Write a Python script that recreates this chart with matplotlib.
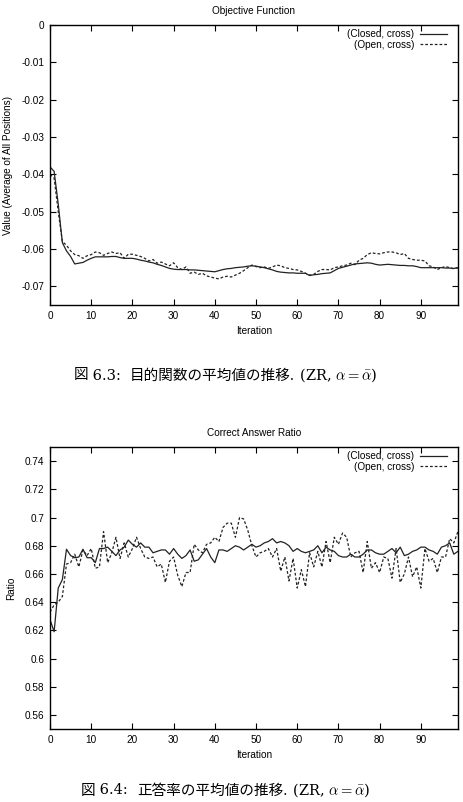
import matplotlib
matplotlib.use("Agg")
import matplotlib.pyplot as plt
from matplotlib.ticker import FuncFormatter, MultipleLocator
from matplotlib.offsetbox import TextArea, HPacker, AnchoredOffsetbox

plt.rcParams['font.family'] = ['Liberation Sans', 'DejaVu Sans']
plt.rcParams['axes.unicode_minus'] = False
plt.rcParams['mathtext.fontset'] = 'cm'

iterations = list(range(100))

# objective function, averaged over all positions
obj_closed = [
    -0.0380, -0.0392, -0.0480, -0.0583, -0.0605, -0.0620, -0.0640, -0.0638, -0.0636, -0.0630,
    -0.0625, -0.0621, -0.0621, -0.0621, -0.0621, -0.0620, -0.0620, -0.0623, -0.0625, -0.0625,
    -0.0625, -0.0627, -0.0630, -0.0632, -0.0635, -0.0637, -0.0641, -0.0644, -0.0648, -0.0652,
    -0.0654, -0.0655, -0.0655, -0.0655, -0.0656, -0.0656, -0.0657, -0.0658, -0.0659, -0.0660,
    -0.0661, -0.0658, -0.0655, -0.0653, -0.0652, -0.0650, -0.0649, -0.0648, -0.0646, -0.0645,
    -0.0646, -0.0648, -0.0650, -0.0653, -0.0656, -0.0660, -0.0662, -0.0663, -0.0664, -0.0664,
    -0.0665, -0.0665, -0.0665, -0.0671, -0.0669, -0.0668, -0.0666, -0.0665, -0.0664, -0.0658,
    -0.0652, -0.0649, -0.0646, -0.0643, -0.0640, -0.0639, -0.0638, -0.0637, -0.0638, -0.0641,
    -0.0643, -0.0642, -0.0641, -0.0642, -0.0643, -0.0644, -0.0644, -0.0645, -0.0645, -0.0647,
    -0.0650, -0.0650, -0.0650, -0.0650, -0.0650, -0.0650, -0.0651, -0.0651, -0.0652, -0.0650,
]
obj_open = [
    -0.0400, -0.0410, -0.0500, -0.0580, -0.0590, -0.0605, -0.0615, -0.0618, -0.0625, -0.0618,
    -0.0615, -0.0608, -0.0610, -0.0617, -0.0612, -0.0608, -0.0612, -0.0610, -0.0625, -0.0614,
    -0.0614, -0.0617, -0.0620, -0.0625, -0.0632, -0.0628, -0.0638, -0.0635, -0.0640, -0.0645,
    -0.0637, -0.0650, -0.0655, -0.0648, -0.0665, -0.0662, -0.0668, -0.0665, -0.0672, -0.0675,
    -0.0678, -0.0680, -0.0675, -0.0673, -0.0675, -0.0670, -0.0665, -0.0658, -0.0650, -0.0643,
    -0.0647, -0.0650, -0.0648, -0.0652, -0.0648, -0.0643, -0.0645, -0.0650, -0.0652, -0.0655,
    -0.0656, -0.0660, -0.0665, -0.0670, -0.0668, -0.0660, -0.0655, -0.0655, -0.0656, -0.0650,
    -0.0648, -0.0645, -0.0643, -0.0638, -0.0642, -0.0630, -0.0625, -0.0615, -0.0610, -0.0612,
    -0.0613, -0.0610, -0.0608, -0.0608, -0.0610, -0.0615, -0.0612, -0.0625, -0.0628, -0.0630,
    -0.0630, -0.0632, -0.0645, -0.0648, -0.0655, -0.0650, -0.0647, -0.0650, -0.0653, -0.0650,
]

# correct answer ratio
ratio_closed = [
    0.6276, 0.619, 0.650, 0.656, 0.6775, 0.673, 0.6715, 0.672, 0.6775, 0.6715,
    0.6715, 0.668, 0.678, 0.678, 0.679, 0.676, 0.673, 0.677, 0.679, 0.684,
    0.681, 0.679, 0.682, 0.679, 0.679, 0.675, 0.676, 0.677, 0.677, 0.674,
    0.678, 0.674, 0.671, 0.673, 0.677, 0.669, 0.670, 0.674, 0.678, 0.672,
    0.668, 0.677, 0.677, 0.676, 0.678, 0.680, 0.679, 0.677, 0.679, 0.681,
    0.679, 0.680, 0.682, 0.683, 0.685, 0.682, 0.683, 0.682, 0.680, 0.676,
    0.678, 0.676, 0.675, 0.676, 0.677, 0.680, 0.675, 0.679, 0.677, 0.676,
    0.673, 0.672, 0.672, 0.674, 0.672, 0.672, 0.674, 0.677, 0.677, 0.675,
    0.674, 0.674, 0.676, 0.678, 0.675, 0.679, 0.673, 0.674, 0.676, 0.677,
    0.679, 0.679, 0.677, 0.676, 0.674, 0.679, 0.680, 0.682, 0.674, 0.676,
]
ratio_open = [
    0.633, 0.638, 0.640, 0.644, 0.667, 0.668, 0.674, 0.665, 0.677, 0.673,
    0.678, 0.664, 0.665, 0.690, 0.668, 0.675, 0.686, 0.671, 0.682, 0.672,
    0.678, 0.686, 0.678, 0.672, 0.671, 0.672, 0.665, 0.667, 0.654, 0.669,
    0.672, 0.659, 0.651, 0.661, 0.661, 0.681, 0.677, 0.675, 0.681, 0.682,
    0.686, 0.683, 0.693, 0.696, 0.696, 0.686, 0.700, 0.699, 0.691, 0.680,
    0.672, 0.675, 0.676, 0.678, 0.672, 0.678, 0.662, 0.672, 0.655, 0.671,
    0.650, 0.663, 0.651, 0.675, 0.665, 0.676, 0.665, 0.683, 0.668, 0.686,
    0.681, 0.689, 0.686, 0.672, 0.675, 0.676, 0.661, 0.683, 0.664, 0.668,
    0.661, 0.672, 0.671, 0.657, 0.678, 0.654, 0.660, 0.672, 0.658, 0.665,
    0.650, 0.678, 0.669, 0.671, 0.661, 0.672, 0.672, 0.685, 0.682, 0.690,
]

labels = ['(Closed, cross)', '(Open, cross)']
captions = [
    ('図', ' 6.3:  ', '目的関数の平均値の推移.'),
    ('図', ' 6.4:  ', '正答率の平均値の推移.'),
]
caption_tail = r' (ZR, $\alpha = \bar{\alpha}$)'
fs = 7.2

fig = plt.figure(figsize=(4.63, 8.02), dpi=100)
ax1 = fig.add_axes([0.108, 0.6197, 0.881, 0.3491])
ax2 = fig.add_axes([0.108, 0.0910, 0.881, 0.3516])


def style(ax, title, ylabel, ylim, yticks, yfmt):
    ax.set_xlim(0, 99)
    ax.xaxis.set_major_locator(MultipleLocator(10))
    ax.set_yticks(yticks)
    ax.set_ylim(*ylim)
    ax.yaxis.set_major_formatter(FuncFormatter(yfmt))
    ax.tick_params(direction='in', top=True, right=True, length=4, width=0.8,
                   labelsize=fs, pad=4)
    for s in ax.spines.values():
        s.set_linewidth(1.0)
    ax.set_title(title, fontsize=fs, pad=8)
    ax.set_xlabel('Iteration', fontsize=fs, labelpad=4)
    ax.set_ylabel(ylabel, fontsize=fs, labelpad=6)
    ax.legend(labels, loc='upper right', bbox_to_anchor=(0.984, 1.0),
              frameon=False, fontsize=fs, markerfirst=False,
              handlelength=2.7, handletextpad=0.6, labelspacing=0.05,
              borderaxespad=0.0)


def caption(parts, y):
    # mix CJK (sans, the only one installed) with serif latin/math parts
    cjk = dict(family='Noto Sans CJK JP', size=10.5)
    serif = dict(family='DejaVu Serif', size=10.5)
    kids = [TextArea(parts[0], textprops=cjk),
            TextArea(parts[1], textprops=serif),
            TextArea(parts[2], textprops=cjk),
            TextArea(caption_tail, textprops=serif)]
    box = HPacker(children=kids, align='baseline', pad=0, sep=0)
    anch = AnchoredOffsetbox(loc='center', child=box, frameon=False, pad=0,
                             bbox_to_anchor=(0.487, y),
                             bbox_transform=fig.transFigure, borderpad=0)
    fig.add_artist(anch)


ax1.plot(iterations, obj_closed, color='#222222', lw=0.9)
ax1.plot(iterations, obj_open, color='#222222', lw=0.9, ls=(0, (2.2, 1.6)))
style(ax1, 'Objective Function', 'Value (Average of All Positions)',
      (-0.075, 0), [-0.07, -0.06, -0.05, -0.04, -0.03, -0.02, -0.01, 0],
      lambda v, p: '0' if abs(v) < 1e-9 else '%g' % round(v, 3))

ax2.plot(iterations, ratio_closed, color='#222222', lw=0.9)
ax2.plot(iterations, ratio_open, color='#222222', lw=0.9, ls=(0, (2.2, 1.6)))
style(ax2, 'Correct Answer Ratio', 'Ratio', (0.55, 0.75),
      [0.56, 0.58, 0.6, 0.62, 0.64, 0.66, 0.68, 0.7, 0.72, 0.74],
      lambda v, p: '%g' % round(v, 3))

caption(captions[0], 1 - 375 / 802)
caption(captions[1], 1 - 790 / 802)

fig.savefig('out.png', dpi=100)
